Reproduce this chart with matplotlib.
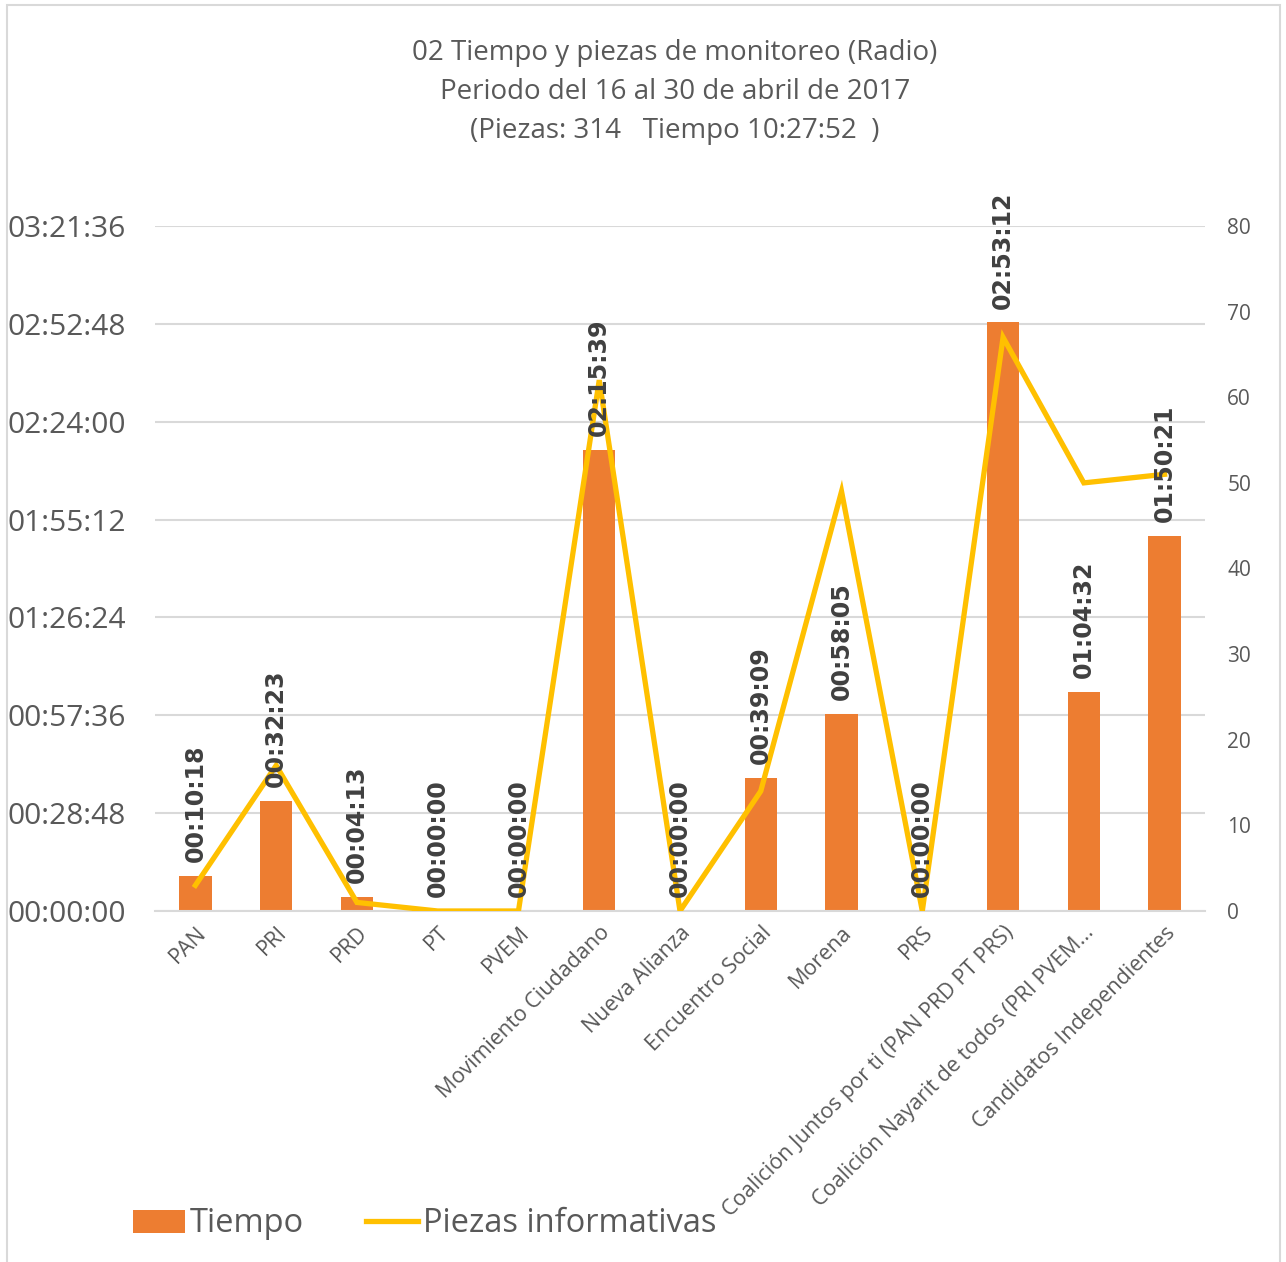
import numpy as np
import matplotlib.pyplot as plt
from matplotlib.patches import Rectangle
from matplotlib.ticker import FuncFormatter, FixedLocator

categorias = ['PAN', 'PRI', 'PRD', 'PT', 'PVEM', 'Movimiento Ciudadano',
              'Nueva Alianza', 'Encuentro Social', 'Morena', 'PRS',
              'Coalición Juntos por ti (PAN PRD PT PRS)',
              'Coalición Nayarit de todos (PRI PVEM...',
              'Candidatos Independientes']
tiempos = ['00:10:18', '00:32:23', '00:04:13', '00:00:00', '00:00:00',
           '02:15:39', '00:00:00', '00:39:09', '00:58:05', '00:00:00',
           '02:53:12', '01:04:32', '01:50:21']
piezas = [3, 17, 1, 0, 0, 62, 0, 14, 49, 0, 67, 50, 51]

titulo = ['02 Tiempo y piezas de monitoreo (Radio)',
          'Periodo del 16 al 30 de abril de 2017',
          '(Piezas: 314   Tiempo 10:27:52  )']


def a_segundos(t):
    h, m, s = [int(v) for v in t.split(':')]
    return h * 3600 + m * 60 + s


def hms(x, pos=None):
    x = int(round(x))
    return '%02d:%02d:%02d' % (x // 3600, (x % 3600) // 60, x % 60)


seg = np.array([a_segundos(t) for t in tiempos])
x = np.arange(len(categorias))

naranja = '#ED7D31'
amarillo = '#FFC000'
gris = '#595959'

W, H = 1286, 1262
fig = plt.figure(figsize=(W / 100, H / 100), dpi=100)
ax = fig.add_axes([155 / W, 1 - 911 / H, 1050 / W, 685 / H])

ax.bar(x, seg, width=0.4, color=naranja, zorder=2, label='Tiempo')
ax.set_xlim(-0.5, len(categorias) - 0.5)
ymax = 7 * 1728
ax.set_ylim(0, ymax)
ax.yaxis.set_major_locator(FixedLocator(np.arange(0, ymax + 1, 1728)))
ax.yaxis.set_major_formatter(FuncFormatter(hms))
ax.grid(axis='y', color='#D9D9D9', linewidth=1.5, zorder=0)
ax.set_axisbelow(True)
for s in ['top', 'right', 'left']:
    ax.spines[s].set_visible(False)
ax.spines['bottom'].set_color('#D9D9D9')
ax.spines['bottom'].set_linewidth(1.5)
ax.tick_params(axis='y', length=0, pad=21, labelsize=21.5, labelcolor=gris)
ax.tick_params(axis='x', length=0, pad=8)
ax.set_xticks(x)
ax.set_xticklabels(categorias, rotation=45, ha='right', va='top',
                   rotation_mode='anchor', fontsize=15.5, color=gris,
                   family='Open Sans')
for lab in ax.get_yticklabels():
    lab.set_family('Open Sans')

ax2 = ax.twinx()
ax2.plot(x, piezas, color=amarillo, linewidth=3.8, zorder=3,
         solid_joinstyle='miter', label='Piezas informativas')
ax2.set_ylim(0, 80)
ax2.set_yticks(np.arange(0, 81, 10))
for s in ax2.spines.values():
    s.set_visible(False)
ax2.tick_params(axis='y', length=0, pad=16, labelsize=15, labelcolor=gris)
for lab in ax2.get_yticklabels():
    lab.set_family('Open Sans')

# etiquetas de datos encima de la linea
for xi, v, t in zip(x, seg, tiempos):
    ax2.annotate(t, (xi, v), xycoords=ax.transData, xytext=(0, 10),
                 textcoords='offset points', rotation=90, ha='center',
                 va='bottom', fontsize=17, fontweight='bold',
                 color='#404040', zorder=5, family='DejaVu Sans')

for i, linea in enumerate(titulo):
    fig.text(675 / W, 1 - (53 + 39 * i) / H, linea, ha='center', va='center',
             fontsize=20, color=gris, family='Open Sans')

# leyenda
h1, l1 = ax.get_legend_handles_labels()
h2, l2 = ax2.get_legend_handles_labels()
fig.legend(h1 + h2, l1 + l2, loc='center left',
           bbox_to_anchor=(133 / W, 1 - 1224 / H), ncol=2, frameon=False,
           prop={'family': 'Open Sans', 'size': 23.5}, labelcolor=gris,
           handlelength=1.6, handleheight=0.7, handletextpad=0.15,
           columnspacing=1.9, borderpad=0, borderaxespad=0)

fig.patches.append(Rectangle((7 / W, -0.01), 1273 / W, 1 - 5 / H + 0.01,
                             transform=fig.transFigure, fill=False,
                             edgecolor='#D9D9D9', linewidth=1.5))

fig.savefig('out.png', dpi=100)
